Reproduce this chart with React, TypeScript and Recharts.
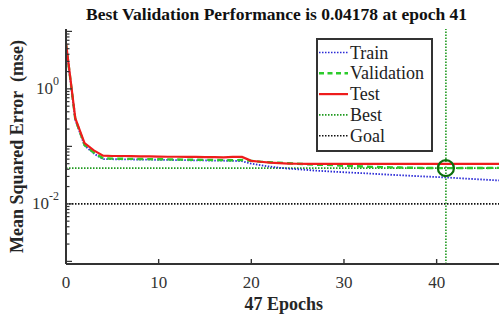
import React from 'react';
import { ComposedChart, Line, XAxis, YAxis, ReferenceLine, ReferenceDot } from 'recharts';

const epochs = Array.from({ length: 48 }, (_, i) => i);
const trainPerf = [5.8, 0.29, 0.104, 0.075, 0.060, 0.0598, 0.0595, 0.0592, 0.059, 0.0587, 0.0584, 0.0581, 0.0578, 0.0575, 0.0572, 0.0569, 0.0566, 0.0563, 0.056, 0.0552, 0.050, 0.047, 0.0445, 0.0425, 0.041, 0.040, 0.039, 0.0378, 0.037, 0.0362, 0.0355, 0.0348, 0.0342, 0.0335, 0.0328, 0.0321, 0.0315, 0.0309, 0.0303, 0.0298, 0.0293, 0.0288, 0.0282, 0.0276, 0.027, 0.0265, 0.0259, 0.0254];
const valPerf = [6.0, 0.30, 0.106, 0.078, 0.062, 0.0612, 0.0609, 0.0606, 0.0603, 0.06, 0.0597, 0.0594, 0.0591, 0.0588, 0.0585, 0.0582, 0.0579, 0.0576, 0.0573, 0.058, 0.056, 0.054, 0.053, 0.052, 0.051, 0.050, 0.049, 0.048, 0.0477, 0.047, 0.046, 0.0453, 0.0446, 0.044, 0.0436, 0.0432, 0.0428, 0.0425, 0.0422, 0.042, 0.0419, 0.04178, 0.0419, 0.042, 0.0421, 0.0421, 0.0422, 0.0423];
const testPerf = [6.3, 0.31, 0.114, 0.085, 0.069, 0.068, 0.068, 0.0675, 0.067, 0.067, 0.0665, 0.066, 0.066, 0.0658, 0.0655, 0.0652, 0.065, 0.0645, 0.0655, 0.0655, 0.056, 0.054, 0.052, 0.051, 0.0503, 0.0499, 0.0498, 0.0498, 0.0497, 0.0497, 0.0497, 0.0497, 0.0497, 0.0497, 0.0497, 0.0497, 0.0497, 0.0497, 0.0497, 0.0497, 0.0497, 0.0497, 0.0497, 0.0497, 0.0497, 0.0497, 0.0497, 0.0497];

const bestEpoch = 41;
const bestPerf = 0.04178;
const goalPerf = 0.01;
const xTicks = [0, 10, 20, 30, 40];
const yTicks = [
  0.001, 0.002, 0.003, 0.004, 0.005, 0.006, 0.007, 0.008, 0.009,
  0.01, 0.02, 0.03, 0.04, 0.05, 0.06, 0.07, 0.08, 0.09,
  0.1, 0.2, 0.3, 0.4, 0.5, 0.6, 0.7, 0.8, 0.9,
  1, 2, 3, 4, 5, 6, 7, 8, 9, 10,
];
const yLabeledTicks = [1, 0.01];
const titleText = 'Best Validation Performance is 0.04178 at epoch 41';
const xLabel = '47 Epochs';
const yLabel = 'Mean Squared Error  (mse)';
const legendItems = [
  { name: 'Train', color: '#2a2ad6', dash: '1.5 1.5', width: 1.6 },
  { name: 'Validation', color: '#2bcb2b', dash: '5 3.5', width: 2.4 },
  { name: 'Test', color: '#ee1c1c', dash: undefined, width: 2.2 },
  { name: 'Best', color: '#1f9a1f', dash: '1.5 1.5', width: 1.6 },
  { name: 'Goal', color: '#111111', dash: '1.5 1.5', width: 1.6 },
];

const data = epochs.map((e, i) => ({ epoch: e, train: trainPerf[i], val: valPerf[i], test: testPerf[i] }));

const FONT = '"Liberation Serif", "Times New Roman", serif';

const YTick = (props: any) => {
  const { x, y, payload } = props;
  const v = payload.value as number;
  const lg = Math.log10(v);
  const exp = Math.round(lg);
  const major = Math.abs(lg - exp) < 1e-6;
  const labeled = yLabeledTicks.some((t) => Math.abs(t - v) < 1e-12);
  return (
    <g>
      <line x1={x} x2={x + (major ? 6 : 3.5)} y1={y} y2={y} stroke="#333" strokeWidth={1.2} />
      {labeled && (
        <text x={x - 7} y={y + 5} textAnchor="end" fontFamily={FONT} fontSize={17} fill="#333">
          <tspan>10</tspan>
          <tspan fontSize={12} dy={-9}>{String(exp)}</tspan>
        </text>
      )}
    </g>
  );
};

const XTick = (props: any) => {
  const { x, y, payload } = props;
  return (
    <g>
      <line x1={x} x2={x} y1={y} y2={y - 5} stroke="#333" strokeWidth={1.4} />
      <text x={x} y={y + 18} textAnchor="middle" dominantBaseline="central" fontFamily={FONT} fontSize={17} fill="#333">
        {payload.value}
      </text>
    </g>
  );
};

const YLabel = (props: any) => {
  const vb = props.viewBox || {};
  const cx = (vb.x ?? 0) + 11;
  const cy = (vb.y ?? 0) + (vb.height ?? 0) / 2;
  return (
    <text x={cx} y={cy} transform={`rotate(-90 ${cx} ${cy})`} textAnchor="middle" dominantBaseline="central"
      fontFamily={FONT} fontSize={18} fontWeight="bold" fill="#262626" style={{ whiteSpace: 'pre' }}>
      {yLabel}
    </text>
  );
};

const XLabel = (props: any) => {
  const vb = props.viewBox || {};
  const cx = (vb.x ?? 0) + (vb.width ?? 0) / 2;
  const cy = (vb.y ?? 0) + 40;
  return (
    <text x={cx} y={cy} textAnchor="middle" dominantBaseline="central" fontFamily={FONT} fontSize={18} fontWeight="bold" fill="#262626">
      {xLabel}
    </text>
  );
};

export default function App() {
  return (
    <div style={{ position: 'absolute', left: 0, top: 0, width: 499, height: 316, overflow: 'hidden', background: '#fff' }}>
      <ComposedChart width={510} height={316} data={data} margin={{ top: 29, right: 8.5, left: 6, bottom: 22 }}>
        <XAxis dataKey="epoch" type="number" domain={[0, 47]} ticks={xTicks} interval={0} allowDataOverflow
          tickSize={0} tickMargin={0} tick={<XTick />} axisLine={{ stroke: '#333', strokeWidth: 2 }} tickLine={false} height={30}
          label={<XLabel />} />
        <YAxis type="number" scale="log" domain={[0.0009, 11]} ticks={yTicks} interval={0} allowDataOverflow
          tickSize={0} tickMargin={0} tick={<YTick />} axisLine={{ stroke: '#333', strokeWidth: 2 }} tickLine={false} width={60}
          label={<YLabel />} />
        <ReferenceLine y={goalPerf} stroke="#111" strokeWidth={1.6} strokeDasharray="1.5 1.5" />
        <ReferenceLine y={bestPerf} stroke="#1f9a1f" strokeWidth={1.6} strokeDasharray="1.5 1.5" />
        <ReferenceLine x={bestEpoch} stroke="#1f9a1f" strokeWidth={1.6} strokeDasharray="1.5 1.5" />
        <Line dataKey="train" stroke="#2a2ad6" strokeWidth={1.8} strokeDasharray="1.5 1.5" dot={false} isAnimationActive={false} />
        <Line dataKey="val" stroke="#2bcb2b" strokeWidth={2.4} strokeDasharray="6 4" dot={false} isAnimationActive={false} />
        <Line dataKey="test" stroke="#ee1c1c" strokeWidth={2.2} dot={false} isAnimationActive={false} />
        <ReferenceDot x={bestEpoch} y={bestPerf} r={8} fill="none" stroke="#0b6e0b" strokeWidth={2.2} />
      </ComposedChart>
      <svg width={499} height={316} style={{ position: 'absolute', left: 0, top: 0, pointerEvents: 'none' }}>
        <text x={276.5} y={14} textAnchor="middle" dominantBaseline="central" fontFamily={FONT} fontSize={17.5} fontWeight="bold" fill="#111">
          {titleText}
        </text>
        <rect x={317} y={39} width={115} height={112} fill="#fff" stroke="#333" strokeWidth={2} />
        {legendItems.map((it, i) => {
          const cy = 52.5 + i * 20.8;
          return (
            <g key={it.name}>
              <line x1={319} x2={348} y1={cy} y2={cy} stroke={it.color} strokeWidth={it.width} strokeDasharray={it.dash} />
              <text x={350} y={cy} dominantBaseline="central" fontFamily={FONT} fontSize={18} fill="#222">{it.name}</text>
            </g>
          );
        })}
      </svg>
    </div>
  );
}
